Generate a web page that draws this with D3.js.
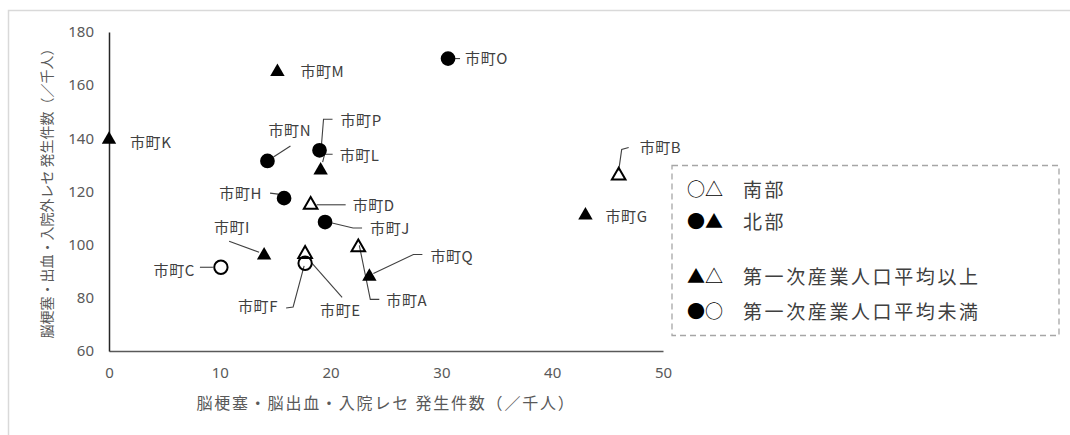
<!DOCTYPE html>
<html>
<head>
<meta charset="utf-8">
<script src="https://cdn.jsdelivr.net/npm/d3@7"></script>
<style>
  body { margin: 0; background: #fff; }
  svg { display: block; }
</style>
</head>
<body>
<svg width="1070" height="435"></svg>
<script>
// data
var towns   = ["市町A","市町B","市町C","市町D","市町E","市町F","市町G","市町H","市町I","市町J","市町K","市町L","市町M","市町N","市町O","市町P","市町Q"];
var xValues = [22.5, 46.0, 10.1, 18.2, 17.7, 17.7, 43.0, 15.8, 14.0, 19.5, 0, 19.1, 15.2, 14.3, 30.6, 19.0, 23.5];
var yValues = [99, 126, 91.5, 115, 93, 96.5, 111, 117.5, 96, 108.5, 139.5, 128, 165, 131.5, 170, 135.5, 88];
// region: S = 南部 (open), N = 北部 (filled)
var region  = ["S","S","S","S","S","S","N","N","N","N","N","N","N","N","N","N","N"];
// primary industry: hi = 平均以上 (triangle), lo = 平均未満 (circle)
var primary = ["hi","hi","lo","hi","lo","hi","hi","lo","hi","lo","hi","hi","hi","lo","lo","lo","hi"];
var xTicks = [0, 10, 20, 30, 40, 50];
var yTicks = [60, 80, 100, 120, 140, 160, 180];
var legendRows = [["○△", "南部"], ["●▲", "北部"], ["▲△", "第一次産業人口平均以上"], ["●○", "第一次産業人口平均未満"]];

// label placement (pixels relative to the marker) and leader lines
var labelPos = {
  "市町A": {dx: 28, dy: 53, anchor: "start", lead: [[21,52],[12,52],[1,-2]]},
  "市町B": {dx: 21, dy: -28, anchor: "start", lead: [[0,-5],[3,-26],[10,-28]]},
  "市町C": {dx: -26, dy: 3, anchor: "end", lead: [[-21,0],[-8,0]]},
  "市町D": {dx: 42, dy: 1, anchor: "start", lead: [[6,0],[35,0]]},
  "市町E": {dx: 15, dy: 47, anchor: "start", lead: [[37,34],[7,0]]},
  "市町F": {dx: -27, dy: 53, anchor: "end", lead: [[-19,54],[-12,53],[-1,12]]},
  "市町G": {dx: 20, dy: 1, anchor: "start"},
  "市町H": {dx: -22, dy: -4, anchor: "end", lead: [[-14,-5],[-6,-4]]},
  "市町I": {dx: -14, dy: -28, anchor: "end", lead: [[-35,-14],[-5,-3]]},
  "市町J": {dx: 45, dy: 7, anchor: "start", lead: [[7,1],[28,6],[37,6]]},
  "市町K": {dx: 21, dy: 3, anchor: "start"},
  "市町L": {dx: 19, dy: -14, anchor: "start", lead: [[12,-16],[4,-16],[2,-8]]},
  "市町M": {dx: 23, dy: 0, anchor: "start"},
  "市町N": {dx: 1, dy: -30, anchor: "start", lead: [[23,-15],[6,-4]]},
  "市町O": {dx: 17, dy: 0, anchor: "start", lead: [[7,0],[12,0]]},
  "市町P": {dx: 21, dy: -30, anchor: "start", lead: [[2,-6],[4,-31],[13,-31]]},
  "市町Q": {dx: 61, dy: -20, anchor: "start", lead: [[53,-22],[44,-22],[4,-3]]}
};

var svg = d3.select("svg");
var jp = "'Noto Sans CJK JP', 'Noto Sans', sans-serif";
var num = "'Noto Sans', 'Open Sans', sans-serif";

// outer chart frame (cropped at right and bottom)
svg.append("path")
  .attr("d", "M8.5,435 L8.5,10.5 L1070,10.5")
  .attr("fill", "none")
  .attr("stroke", "#d9d9d9")
  .attr("stroke-width", 1.5);

var x = d3.scaleLinear().domain([0, 50]).range([109, 663]);
var y = d3.scaleLinear().domain([60, 180]).range([351, 32]);

// axes
var gx = svg.append("g")
  .attr("transform", "translate(0,351)")
  .call(d3.axisBottom(x).tickValues(xTicks).tickSize(0).tickPadding(16));
gx.select(".domain").attr("stroke", "#595959").attr("stroke-width", 1.5);
gx.selectAll("text").attr("font-family", num).attr("font-size", 15).attr("fill", "#595959");

var gy = svg.append("g")
  .attr("transform", "translate(109,0)")
  .call(d3.axisLeft(y).tickValues(yTicks).tickSize(0).tickPadding(15));
gy.select(".domain").attr("stroke", "#262626").attr("stroke-width", 1.5);
gy.selectAll("text").attr("font-family", num).attr("font-size", 15).attr("fill", "#595959");

// axis titles
svg.append("text")
  .attr("x", 386).attr("y", 409)
  .attr("text-anchor", "middle")
  .attr("font-family", jp).attr("font-size", 16)
  .attr("letter-spacing", 1.8)
  .attr("fill", "#595959")
  .text("脳梗塞・脳出血・入院レセ 発生件数（／千人）");

svg.append("text")
  .attr("transform", "translate(52,190) rotate(-90)")
  .attr("text-anchor", "middle")
  .attr("font-family", jp).attr("font-size", 14)
  .attr("fill", "#595959")
  .text("脳梗塞・出血・入院外レセ 発生件数（／千人）");

var data = towns.map(function(t, i) {
  return {name: t, x: xValues[i], y: yValues[i], region: region[i], primary: primary[i]};
});

// leader lines
var line = d3.line();
data.forEach(function(d) {
  var p = labelPos[d.name];
  if (!p.lead) return;
  var px = x(d.x), py = y(d.y);
  svg.append("path")
    .attr("d", line(p.lead.map(function(o) { return [px + o[0], py + o[1]]; })))
    .attr("fill", "none")
    .attr("stroke", "#404040")
    .attr("stroke-width", 1.1);
});

// markers
var tri = d3.symbol().type(d3.symbolTriangle);
var circ = d3.symbol().type(d3.symbolCircle);
svg.append("g").selectAll("path")
  .data(data)
  .join("path")
  .attr("transform", function(d) { return "translate(" + x(d.x) + "," + y(d.y) + ")"; })
  .attr("d", function(d) {
    if (d.primary === "hi") return tri.size(d.region === "N" ? 90 : 80)();
    return circ.size(d.region === "N" ? 170 : 140)();
  })
  .attr("fill", function(d) { return d.region === "N" ? "#000" : "#fff"; })
  .attr("fill-opacity", function(d) { return d.region === "N" ? 1 : 0; })
  .attr("stroke", "#000")
  .attr("stroke-width", function(d) { return d.region === "N" ? 0 : 2; });

// point labels
svg.append("g").selectAll("text")
  .data(data)
  .join("text")
  .attr("x", function(d) { return x(d.x) + labelPos[d.name].dx; })
  .attr("y", function(d) { return y(d.y) + labelPos[d.name].dy; })
  .attr("dy", "0.35em")
  .attr("text-anchor", function(d) { return labelPos[d.name].anchor; })
  .attr("font-family", jp).attr("font-size", 15)
  .attr("letter-spacing", 0.6)
  .attr("fill", "#404040")
  .text(function(d) { return d.name; });

// legend box
svg.append("rect")
  .attr("x", 672).attr("y", 165.5)
  .attr("width", 387).attr("height", 170)
  .attr("fill", "#fff")
  .attr("stroke", "#a6a6a6")
  .attr("stroke-width", 1.3)
  .attr("stroke-dasharray", "6,4");

var legendY = [190, 222, 277, 312];
var lg = svg.append("g");
legendRows.forEach(function(r, i) {
  lg.append("text")
    .attr("x", 687).attr("y", legendY[i]).attr("dy", "0.35em")
    .attr("font-family", jp).attr("font-size", 18)
    .attr("fill", "#000")
    .text(r[0]);
  lg.append("text")
    .attr("x", 743).attr("y", legendY[i]).attr("dy", "0.35em")
    .attr("font-family", jp).attr("font-size", 19)
    .attr("letter-spacing", 2.6)
    .attr("fill", "#404040")
    .text(r[1]);
});
</script>
</body>
</html>
